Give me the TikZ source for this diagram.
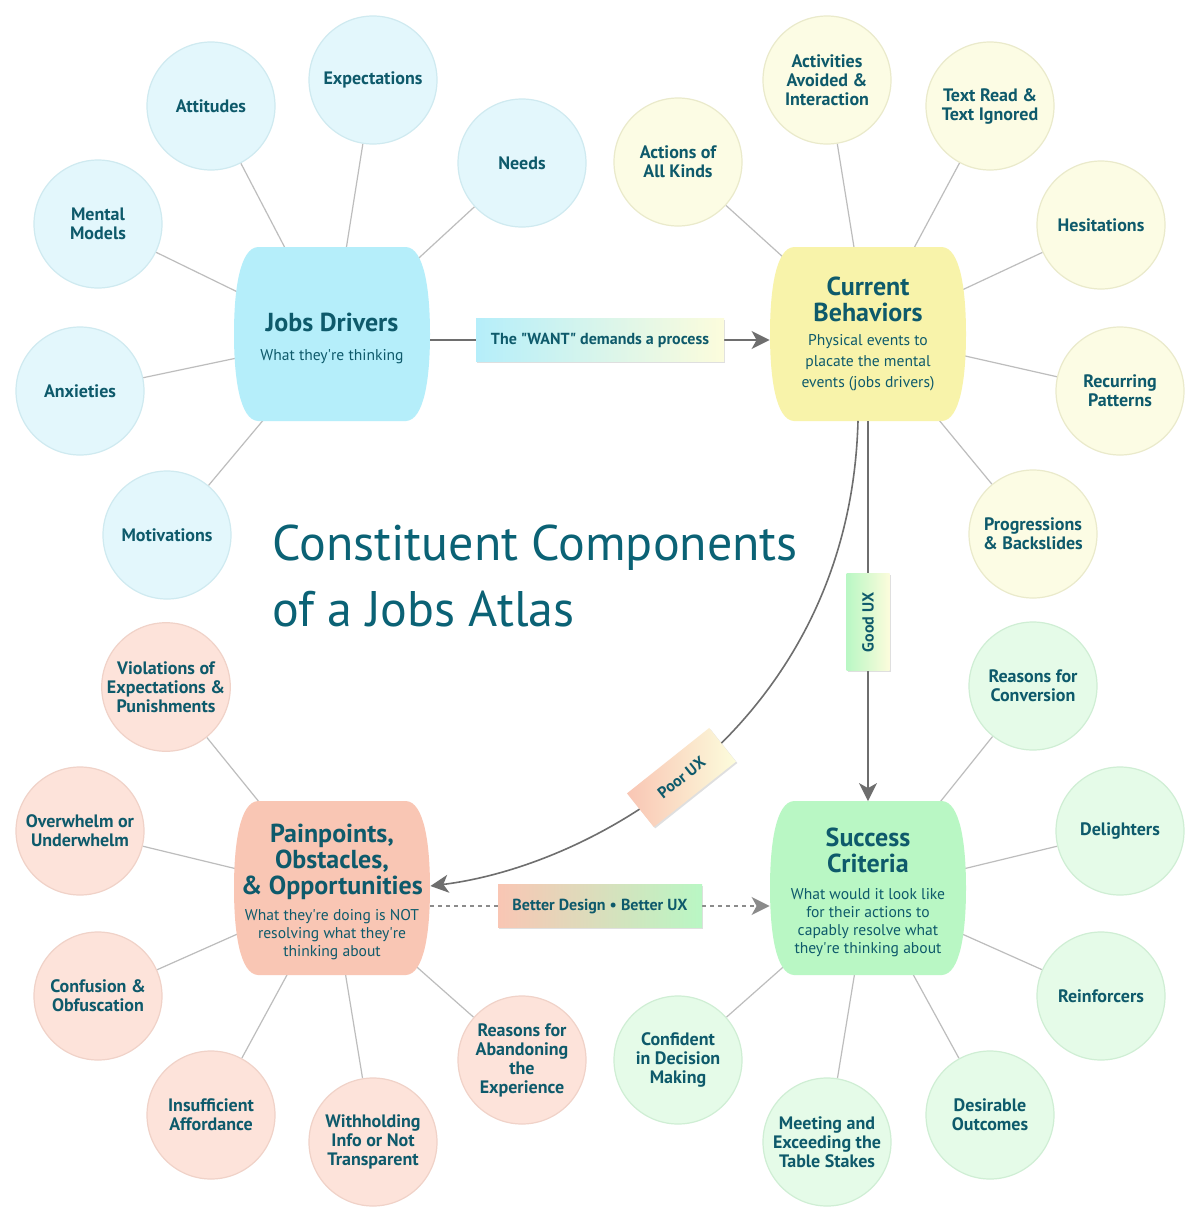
\documentclass[tikz,border=0pt]{standalone}
\usepackage{fontspec}
\setmainfont{PT Sans}
\usetikzlibrary{positioning,arrows.meta,shadows,backgrounds}

\definecolor{ink}{HTML}{0E5A6B}
\definecolor{headink}{HTML}{0B6275}
\definecolor{jobsfill}{HTML}{B5EEFA}
\definecolor{jobsleaf}{HTML}{E3F7FC}
\definecolor{jobsrim}{HTML}{CFEAF0}
\definecolor{curfill}{HTML}{F8F3AA}
\definecolor{curleaf}{HTML}{FCFCE4}
\definecolor{currim}{HTML}{EAEACB}
\definecolor{painfill}{HTML}{F9C6B4}
\definecolor{painleaf}{HTML}{FDE3DA}
\definecolor{painrim}{HTML}{F0D2C8}
\definecolor{sucfill}{HTML}{B9F7C4}
\definecolor{sucleaf}{HTML}{E5FBE8}
\definecolor{sucrim}{HTML}{CFEED4}
\definecolor{tagyellow}{HTML}{FCFCDC}
\definecolor{spokegray}{HTML}{BDBDBD}
\definecolor{flowgray}{HTML}{6E6E6E}

\newcommand{\hubhead}{\fontsize{13}{13}\selectfont\bfseries}
\newcommand{\hubnote}[1][9]{\fontsize{7.8}{#1}\selectfont\mdseries}
\newcommand{\apos}{\textquotesingle}
% barrel behind a hub: centre x, centre y, colour
\newcommand{\barrel}[3]{%
 \fill[#3] (#1-74,#2-87) -- (#1+74,#2-87)
  .. controls (#1+92,#2-86) and (#1+98,#2-45) .. (#1+98,#2)
  .. controls (#1+98,#2+45) and (#1+92,#2+86) .. (#1+74,#2+87)
  -- (#1-74,#2+87)
  .. controls (#1-92,#2+86) and (#1-98,#2+45) .. (#1-98,#2)
  .. controls (#1-98,#2-45) and (#1-92,#2-86) .. (#1-74,#2-87) -- cycle;}

\begin{document}
\begin{tikzpicture}[x=0.5pt,y=-0.5pt,
 leaf/.style={circle,minimum size=64pt,inner sep=0pt,align=center,text=ink,line width=0.6pt,font=\fontsize{9}{9.5}\selectfont\bfseries},
 jobsleaf/.style={leaf,fill=jobsleaf,draw=jobsrim},
 curleaf/.style={leaf,fill=curleaf,draw=currim},
 painleaf/.style={leaf,fill=painleaf,draw=painrim},
 sucleaf/.style={leaf,fill=sucleaf,draw=sucrim},
 hub/.style={rectangle,minimum width=98pt,minimum height=86.5pt,text width=94pt,align=flush center,text=ink,inner sep=0pt},
 tag/.style={text=ink,font=\fontsize{8}{9}\selectfont\bfseries,minimum height=21.5pt,inner sep=0pt,
  drop shadow={shadow xshift=0.7pt,shadow yshift=-0.7pt,opacity=0.25}},
 spoke/.style={draw=spokegray,line width=0.6pt},
 flow/.style={draw=flowgray,line width=0.8pt,-{Stealth[length=9pt,width=9pt,inset=2.5pt]}}]
 \useasboundingbox (0,0) rectangle (1200,1221);

 \barrel{332}{334}{jobsfill}
 \barrel{868}{334}{curfill}
 \barrel{332}{888}{painfill}
 \barrel{868}{888}{sucfill}

 \node[hub,yshift=-2pt] (jobs) at (332,334) {{\hubhead Jobs Drivers\par}\vspace{5.5pt}{\hubnote What they\apos re thinking\par}};
 \node[hub] (cur) at (868,334) {{\hubhead Current\\Behaviors\par}\vspace{1.5pt}{\hubnote[10.5] Physical events to\\placate the mental\\events (jobs drivers)\par}};
 \node[hub,yshift=-2pt] (pain) at (332,888) {{\hubhead Painpoints,\\Obstacles,\\\& Opportunities\par}\vspace{4pt}{\hubnote What they\apos re doing is NOT\\resolving what they\apos re\\thinking about\par}};
 \node[hub,yshift=-2pt] (suc) at (868,888) {{\hubhead Success\\Criteria\par}\vspace{4.5pt}{\hubnote What would it look like\\for their actions to\\capably resolve what\\they\apos re thinking about\par}};

 \node[jobsleaf] (att) at (211,106) {Attitudes};
 \node[jobsleaf] (exp) at (373,80) {Expectations};
 \node[jobsleaf] (need) at (522,163) {Needs};
 \node[jobsleaf] (mm) at (98,224) {Mental\\Models};
 \node[jobsleaf] (anx) at (80,391) {Anxieties};
 \node[jobsleaf] (mot) at (167,535) {Motivations};

 \node[curleaf] (act) at (678,162) {Actions of\\All Kinds};
 \node[curleaf] (avo) at (827,80) {Activities\\Avoided \&\\Interaction};
 \node[curleaf] (txt) at (990,106) {Text Read \&\\Text Ignored};
 \node[curleaf] (hes) at (1101,225) {Hesitations};
 \node[curleaf] (rec) at (1120,391) {Recurring\\Patterns};
 \node[curleaf] (prog) at (1033,534) {Progressions\\\& Backslides};

 \node[painleaf] (vio) at (166,687) {Violations of\\Expectations \&\\Punishments};
 \node[painleaf] (ovr) at (80,831) {Overwhelm or\\Underwhelm};
 \node[painleaf] (cnf) at (98,996) {Confusion \&\\Obfuscation};
 \node[painleaf] (ins) at (211,1115) {Insufficient\\Affordance};
 \node[painleaf] (wth) at (373,1142) {Withholding\\Info or Not\\Transparent};
 \node[painleaf] (abd) at (522,1060) {Reasons for\\Abandoning\\the\\Experience};

 \node[sucleaf] (conv) at (1033,686) {Reasons for\\Conversion};
 \node[sucleaf] (del) at (1120,831) {Delighters};
 \node[sucleaf] (rein) at (1101,996) {Reinforcers};
 \node[sucleaf] (des) at (990,1115) {Desirable\\Outcomes};
 \node[sucleaf] (meet) at (827,1142) {Meeting and\\Exceeding the\\Table Stakes};
 \node[sucleaf] (conf) at (678,1060) {Confident\\in Decision\\Making};

 \node[anchor=north west,inner sep=0pt,align=left,text=headink,font=\fontsize{25}{33}\selectfont] (title) at (272,524) {Constituent Components\\of a Jobs Atlas};

 \draw[flow] ([yshift=-1pt]jobs.east) -- node[tag,left color=jobsfill,right color=tagyellow,minimum width=124pt] (want) {The \textquotedbl WANT\textquotedbl{} demands a process} ([yshift=-3pt]cur.west);
 \draw[flow] (cur) -- node[pos=0.53,tag,rotate=90,left color=sucfill,right color=tagyellow,minimum width=48.5pt] (good) {Good UX} ([yshift=2pt]suc.north);
 \draw[flow] ([xshift=-5pt]cur.south) .. controls (850,720) and (600,865) .. ([yshift=3pt]pain.east)
  node[pos=0.545,sloped,tag,left color=painfill,right color=tagyellow,minimum width=52.5pt] (poor) {Poor UX};
 \draw[flow,draw=flowgray!80,dash pattern=on 2pt off 2pt] ([yshift=-7pt]pain.east) -- node[tag,left color=painfill,right color=sucfill,minimum width=102pt] (better) {Better Design • Better UX} ([yshift=-7pt]suc.west);

 \begin{scope}[on background layer]
  \fill[white] (0,0) rectangle (1200,1221);
  \foreach \n in {att,exp,need,mm,anx,mot} \draw[spoke] (\n) -- (jobs.center);
  \foreach \n in {act,avo,txt,hes,rec,prog} \draw[spoke] (\n) -- (cur.center);
  \foreach \n in {vio,ovr,cnf,ins,wth,abd} \draw[spoke] (\n) -- (pain.center);
  \foreach \n in {conv,del,rein,des,meet,conf} \draw[spoke] (\n) -- (suc.center);
 \end{scope}
\end{tikzpicture}
\end{document}
